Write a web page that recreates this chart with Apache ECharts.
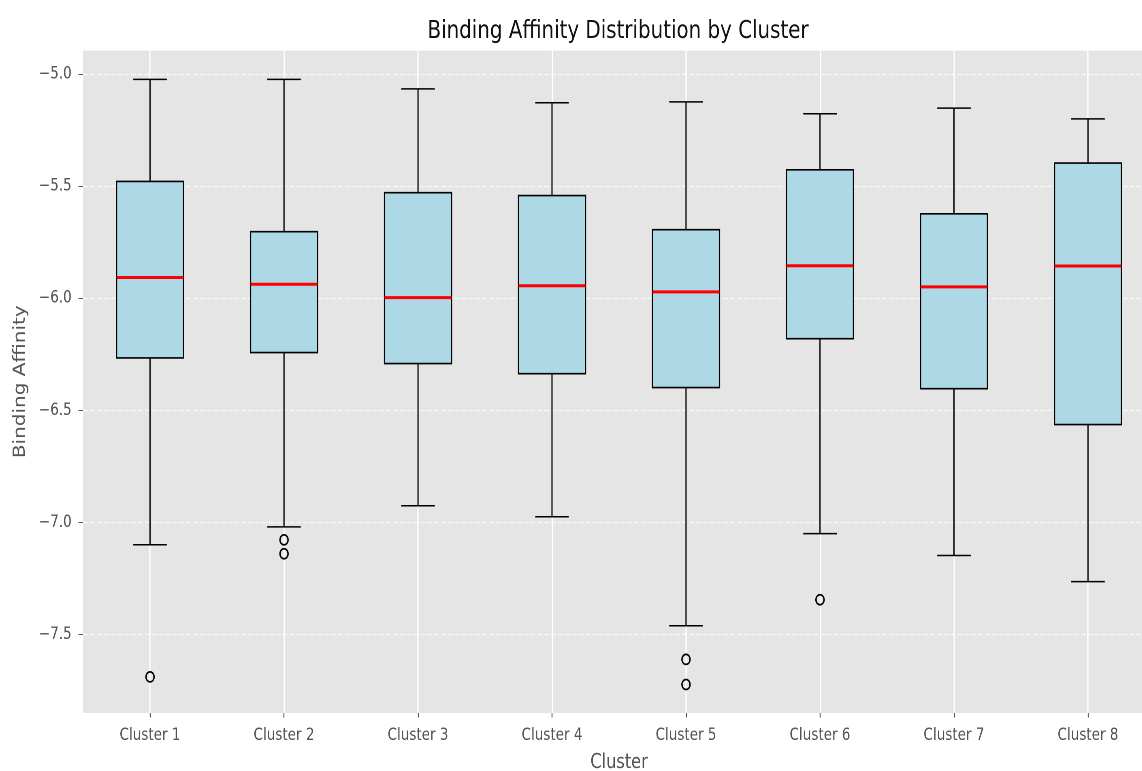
<!DOCTYPE html>
<html>
<head>
<meta charset="utf-8">
<script src="https://cdn.jsdelivr.net/npm/echarts@6/dist/echarts.min.js"></script>
<style>
html,body{margin:0;padding:0;background:#fff;overflow:hidden;}
#c{width:1410px;height:771px;transform:scaleX(0.81);transform-origin:0 0;}
</style>
</head>
<body>
<div id="c"></div>
<script>
const categories = ['Cluster 1','Cluster 2','Cluster 3','Cluster 4','Cluster 5','Cluster 6','Cluster 7','Cluster 8'];
const whiskerLow  = [-7.099, -7.019, -6.925, -6.974, -7.460, -7.049, -7.147, -7.263];
const q1          = [-6.266, -6.242, -6.291, -6.336, -6.398, -6.180, -6.403, -6.563];
const median      = [-5.907, -5.937, -5.997, -5.944, -5.971, -5.855, -5.949, -5.856];
const q3          = [-5.479, -5.703, -5.529, -5.542, -5.694, -5.427, -5.623, -5.397];
const whiskerHigh = [-5.024, -5.024, -5.066, -5.128, -5.124, -5.177, -5.152, -5.200];
const outlierCluster = [1, 2, 2, 5, 5, 6];
const outlierValue   = [-7.688, -7.077, -7.139, -7.610, -7.722, -7.344];
const yTicks = [-7.5, -7.0, -6.5, -6.0, -5.5, -5.0];
const titleText = 'Binding Affinity Distribution by Cluster';

const positions = categories.map((c, i) => i + 1);
const boxData = positions.map((p, i) => [p, whiskerLow[i], q1[i], median[i], q3[i], whiskerHigh[i]]);
const outlierData = outlierCluster.map((c, i) => [c, outlierValue[i]]);

const chart = echarts.init(document.getElementById('c'), null, {renderer: 'canvas', devicePixelRatio: 2});

function renderBox(params, api) {
  const x = api.value(0);
  const unit = api.size([1, 0])[0];
  const bh = unit * 0.25;
  const ch = unit * 0.125;
  const pLo = api.coord([x, api.value(1)]);
  const pQ1 = api.coord([x, api.value(2)]);
  const pMed = api.coord([x, api.value(3)]);
  const pQ3 = api.coord([x, api.value(4)]);
  const pHi = api.coord([x, api.value(5)]);
  const cx = pMed[0];
  const lineStyle = {stroke: '#000', lineWidth: 1.5, fill: null};
  return {
    type: 'group',
    children: [
      {type: 'line', shape: {x1: cx, y1: pQ3[1], x2: cx, y2: pHi[1]}, style: lineStyle},
      {type: 'line', shape: {x1: cx, y1: pQ1[1], x2: cx, y2: pLo[1]}, style: lineStyle},
      {type: 'line', shape: {x1: cx - ch, y1: pHi[1], x2: cx + ch, y2: pHi[1]}, style: lineStyle},
      {type: 'line', shape: {x1: cx - ch, y1: pLo[1], x2: cx + ch, y2: pLo[1]}, style: lineStyle},
      {type: 'rect', shape: {x: cx - bh, y: pQ3[1], width: bh * 2, height: pQ1[1] - pQ3[1]},
        style: {fill: '#add8e6', stroke: '#000', lineWidth: 1.6}},
      {type: 'line', shape: {x1: cx - bh, y1: pMed[1], x2: cx + bh, y2: pMed[1]},
        style: {stroke: '#ff0000', lineWidth: 3}}
    ]
  };
}

const option = {
  animation: false,
  backgroundColor: '#ffffff',
  title: {
    text: titleText,
    left: 763,
    top: 19,
    padding: 0,
    textAlign: 'center',
    textStyle: {fontFamily: 'DejaVu Sans', fontSize: 24.5, fontWeight: 'normal', color: '#111'}
  },
  grid: {
    left: 102.5, right: -15.9, top: 50.5, bottom: 58,
    show: true, backgroundColor: '#e5e5e5', borderWidth: 0,
    containLabel: false, outerBoundsMode: 'none'
  },
  xAxis: {
    type: 'value',
    min: 0.5, max: 8.5,
    name: 'Cluster',
    nameLocation: 'middle',
    nameGap: 40,
    nameTextStyle: {fontFamily: 'DejaVu Sans', fontSize: 20, color: '#555'},
    axisLine: {show: false},
    axisTick: {show: true, length: 4.5, customValues: positions, lineStyle: {color: '#555', width: 1.2}},
    axisLabel: {
      customValues: positions, margin: 14,
      fontFamily: 'DejaVu Sans', fontSize: 16.7, color: '#555',
      formatter: v => categories[Math.round(v) - 1] || ''
    },
    splitLine: {show: true, lineStyle: {color: '#ffffff', width: 1.6, type: 'solid'}}
  },
  yAxis: {
    type: 'value',
    min: -7.849, max: -4.895,
    name: 'Binding Affinity',
    nameLocation: 'middle',
    nameGap: 67,
    nameTextStyle: {fontFamily: 'DejaVu Sans', fontSize: 20, color: '#555'},
    axisLine: {show: false},
    axisTick: {show: true, length: 5.6, customValues: yTicks, lineStyle: {color: '#555', width: 1}},
    axisLabel: {
      customValues: yTicks, margin: 14,
      fontFamily: 'DejaVu Sans', fontSize: 16.7, color: '#555',
      formatter: v => v.toFixed(1).replace('-', '\u2212')
    },
    splitLine: {show: true, lineStyle: {color: 'rgba(255,255,255,0.75)', width: 1.2, type: [6, 2.5]}}
  },
  series: [
    {
      type: 'custom',
      name: 'box',
      renderItem: renderBox,
      encode: {x: 0, y: [1, 2, 3, 4, 5]},
      data: boxData,
      z: 2
    },
    {
      type: 'scatter',
      name: 'outliers',
      data: outlierData,
      symbol: 'circle',
      symbolSize: 10,
      itemStyle: {color: 'rgba(0,0,0,0)', borderColor: '#000', borderWidth: 1.7, opacity: 1},
      z: 3
    }
  ]
};
chart.setOption(option);
</script>
</body>
</html>
